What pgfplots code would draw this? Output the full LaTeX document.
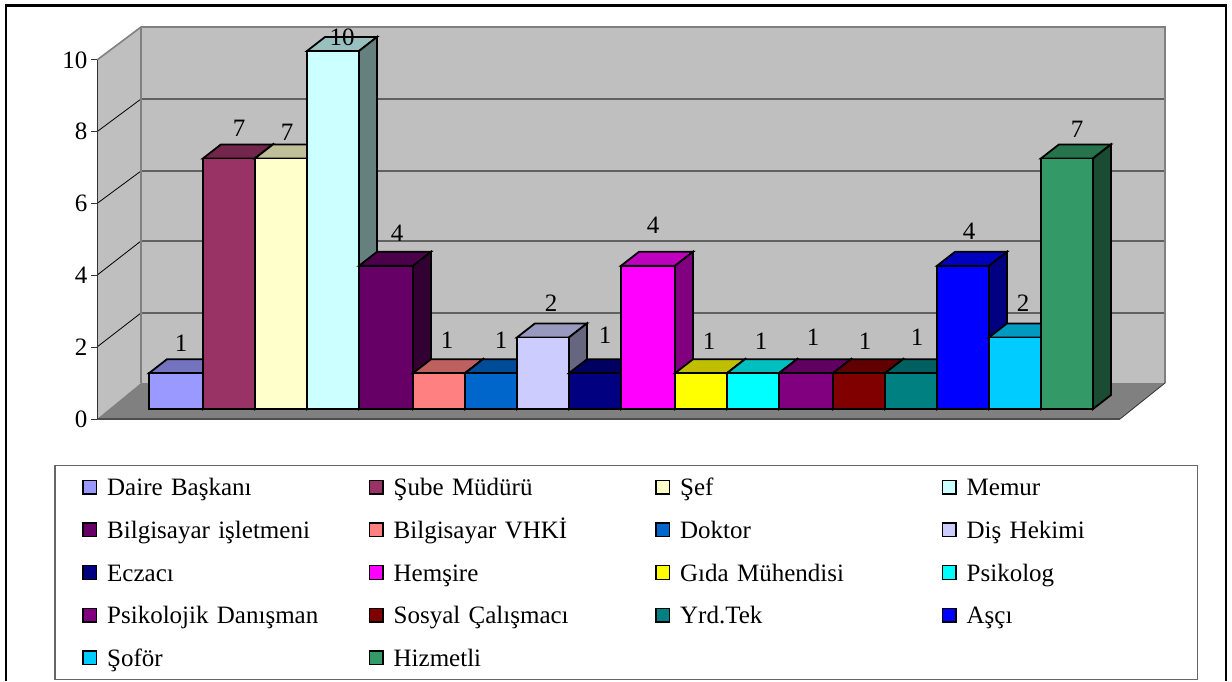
\documentclass[border=0pt]{standalone}
\usepackage{fontspec}
\setmainfont{Liberation Serif}
\usepackage{pgfplots}
\pgfplotsset{compat=1.18}
\usepackage{xcolor}

\definecolor{c1}{HTML}{9999FF}
\definecolor{c2}{HTML}{993366}
\definecolor{c3}{HTML}{FFFFCC}
\definecolor{c4}{HTML}{CCFFFF}
\definecolor{c5}{HTML}{660066}
\definecolor{c6}{HTML}{FF8080}
\definecolor{c7}{HTML}{0066CC}
\definecolor{c8}{HTML}{CCCCFF}
\definecolor{c9}{HTML}{000080}
\definecolor{c10}{HTML}{FF00FF}
\definecolor{c11}{HTML}{FFFF00}
\definecolor{c12}{HTML}{00FFFF}
\definecolor{c13}{HTML}{800080}
\definecolor{c14}{HTML}{800000}
\definecolor{c15}{HTML}{008080}
\definecolor{c16}{HTML}{0000FF}
\definecolor{c17}{HTML}{00CCFF}
\definecolor{c18}{HTML}{339966}

\newcommand{\chartfont}{\fontsize{25}{27}\selectfont}

% left edge, right edge, value, colour, name, label x, label lift
\newcommand{\onebar}[7]{%
  \pgfmathsetmacro\xa{#1+18}%
  \pgfmathsetmacro\xb{#2+18}%
  \pgfmathsetmacro\ytop{#3+0.391}%
  \edef\temp{%
    \noexpand\addplot[draw=black,line width=1.8pt,fill=#4!75!black,forget plot]
      coordinates {(#1,#3)(\xa,\ytop)(\xb,\ytop)(#2,#3)} --cycle;
    \noexpand\addplot[draw=black,line width=1.8pt,fill=#4!50!black,forget plot]
      coordinates {(#2,0)(\xb,0.391)(\xb,\ytop)(#2,#3)} --cycle;
    \noexpand\addplot[draw=black,line width=1.8pt,fill=#4]
      coordinates {(#1,0)(#2,0)(#2,#3)(#1,#3)} --cycle;
  }\temp
  \addlegendentry{#5}
  \node[font=\chartfont,inner sep=0pt,text=black] at (axis cs:#6,#3) [yshift=#7pt] {#3};
}

\begin{document}
\begin{tikzpicture}
\path[use as bounding box] (0,0) rectangle (1232pt,681pt);

\begin{axis}[
  at={(0,0)},anchor=south west,
  scale only axis,width=1232pt,height=681pt,
  xmin=0,xmax=1232,ymin=-7.598,ymax=11.425,
  hide axis,clip=false,
  legend columns=4,
  legend cell align=left,
  legend image code/.code={\draw[#1,line width=1.5pt] (0pt,-6.8pt) rectangle (13.6pt,6.8pt);},
  legend style={
    at={(54.5/1232,216/681)},anchor=north west,
    draw=black!60,line width=1.2pt,fill=white,
    inner xsep=27pt,inner ysep=7pt,
    font=\chartfont,
    nodes={inner sep=0pt,text height=23pt,text depth=6pt},
    /tikz/row sep=13.7pt,
    /tikz/every odd column/.append style={column sep=10pt},
    /tikz/column 2/.style={text width=261.4pt},
    /tikz/column 4/.style={text width=261.4pt},
    /tikz/column 6/.style={text width=261.4pt},
    /tikz/column 8/.style={text width=204pt},
  },
]
% back wall, left wall and floor
\addplot[draw=none,fill=black!25,forget plot] coordinates {(141,0.726)(141,10.670)(1165,10.670)(1165,0.726)} --cycle;
\addplot[draw=none,fill=black!25,forget plot] coordinates {(97,-0.279)(97,9.749)(141,10.670)(141,0.726)} --cycle;
\addplot[draw=none,fill=black!50,forget plot] coordinates {(97,-0.279)(1120,-0.279)(1165,0.726)(141,0.726)} --cycle;
% gridlines on the back wall
\addplot[black!62,line width=1.4pt,forget plot] coordinates {(141,8.659)(1165,8.659)};
\addplot[black!62,line width=1.4pt,forget plot] coordinates {(141,6.648)(1165,6.648)};
\addplot[black!62,line width=1.4pt,forget plot] coordinates {(141,4.693)(1165,4.693)};
\addplot[black!62,line width=1.4pt,forget plot] coordinates {(141,2.682)(1165,2.682)};
% gridlines on the left wall
\addplot[black,line width=0.8pt,forget plot] coordinates {(97,7.746)(141,8.659)};
\addplot[black,line width=0.8pt,forget plot] coordinates {(97,5.740)(141,6.648)};
\addplot[black,line width=0.8pt,forget plot] coordinates {(97,3.737)(141,4.693)};
\addplot[black,line width=0.8pt,forget plot] coordinates {(97,1.732)(141,2.682)};
% wall edges
\addplot[black!50,line width=1.6pt,forget plot] coordinates {(97,9.749)(141,10.670)(1165,10.670)(1165,0.726)};
\addplot[black!50,line width=1.6pt,forget plot] coordinates {(141,10.670)(141,0.726)};
\addplot[black!70,line width=1.6pt,forget plot] coordinates {(97,-0.279)(1120,-0.279)};
\addplot[black!80,line width=0.8pt,forget plot] coordinates {(1120,-0.279)(1165,0.726)};

\onebar{149}{203}{1}{c1}{Daire Başkanı}{181}{30}
\onebar{203}{255}{7}{c2}{Şube Müdürü}{239}{30}
\onebar{255}{307}{7}{c3}{Şef}{287}{26}
\onebar{307}{359}{10}{c4}{Memur}{342}{14}
\onebar{359}{413}{4}{c5}{Bilgisayar işletmeni}{397}{33}
\onebar{413}{465}{1}{c6}{Bilgisayar VHKİ}{447}{33}
\onebar{465}{517}{1}{c7}{Doktor}{501}{33}
\onebar{517}{569}{2}{c8}{Diş Hekimi}{551}{34}
\onebar{569}{621}{1}{c9}{Eczacı}{605}{38}
\onebar{621}{675}{4}{c10}{Hemşire}{653}{41}
\onebar{675}{727}{1}{c11}{Gıda Mühendisi}{709}{32}
\onebar{727}{779}{1}{c12}{Psikolog}{761}{32}
\onebar{779}{833}{1}{c13}{Psikolojik Danışman}{813}{36}
\onebar{833}{885}{1}{c14}{Sosyal Çalışmacı}{865}{32}
\onebar{885}{937}{1}{c15}{Yrd.Tek}{917}{36}
\onebar{937}{989}{4}{c16}{Aşçı}{969}{35}
\onebar{989}{1041}{2}{c17}{Şoför}{1023}{34}
\onebar{1041}{1093}{7}{c18}{Hizmetli}{1077}{29}
\end{axis}

% value axis on the front edge of the left wall
\begin{axis}[
  at={(97pt,262pt)},anchor=south west,
  scale only axis,width=44pt,height=359pt,
  xmin=0,xmax=1,ymin=0,ymax=10,
  axis y line=left,axis x line=none,
  axis line style={-,black!80,line width=1pt},
  ytick={0,2,4,6,8,10},
  tick align=outside,major tick length=6pt,
  tick style={black!80,line width=1pt},
  tick label style={font=\chartfont},
  /pgf/number format/assume math mode=true,
]
\addplot[draw=none,forget plot] coordinates {(0,0)(0,10)};
\end{axis}

% outer frame, open at the bottom where the page cuts it
\draw[black,line width=2.3pt] (6pt,0pt) -- (6pt,675.5pt) -- (1226pt,675.5pt) -- (1226pt,0pt);
\end{tikzpicture}
\end{document}
